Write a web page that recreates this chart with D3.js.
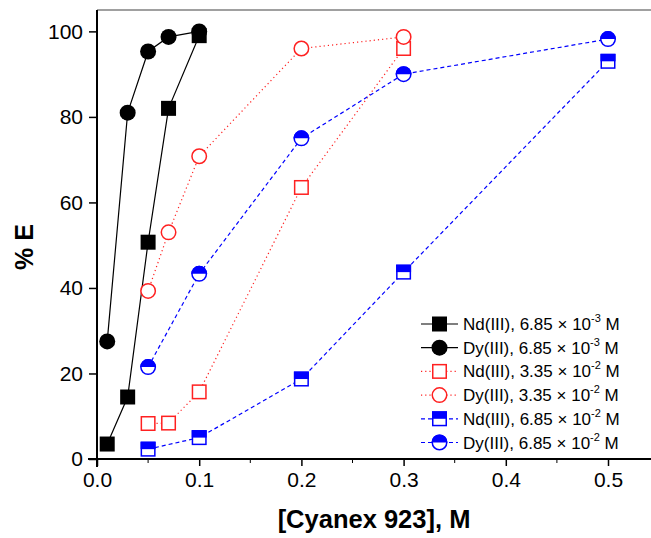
<!DOCTYPE html>
<html>
<head>
<meta charset="utf-8">
<script src="https://cdn.jsdelivr.net/npm/d3@7"></script>
<style>
  body { margin: 0; background: #fff; }
  text { font-family: Arial, "Liberation Sans", sans-serif; }
</style>
</head>
<body>
<div class="chart"></div>
<script>
// data
const ndLowX = [0.01, 0.03, 0.05, 0.07, 0.1];
const ndLowY = [3.5, 14.5, 50.7, 82, 99];
const dyLowX = [0.01, 0.03, 0.05, 0.07, 0.1];
const dyLowY = [27.5, 81, 95.3, 98.7, 100];
const ndMidX = [0.05, 0.07, 0.1, 0.2, 0.3];
const ndMidY = [8.3, 8.4, 15.7, 63.5, 96];
const dyMidX = [0.05, 0.07, 0.1, 0.2, 0.3];
const dyMidY = [39.3, 53, 70.8, 96, 98.7];
const ndHighX = [0.05, 0.1, 0.2, 0.3, 0.5];
const ndHighY = [2.3, 5, 18.7, 43.7, 93];
const dyHighX = [0.05, 0.1, 0.2, 0.3, 0.5];
const dyHighY = [21.5, 43.3, 75, 90, 98.2];

const xTicks = [0, 0.1, 0.2, 0.3, 0.4, 0.5];
const yTicks = [0, 20, 40, 60, 80, 100];

const series = [
  { name: "Nd(III), 6.85 × 10", exp: "-3", xs: ndLowX, ys: ndLowY, color: "#000", dash: null, shape: "square", fill: "full" },
  { name: "Dy(III), 6.85 × 10", exp: "-3", xs: dyLowX, ys: dyLowY, color: "#000", dash: null, shape: "circle", fill: "full" },
  { name: "Nd(III), 3.35 × 10", exp: "-2", xs: ndMidX, ys: ndMidY, color: "#ff2020", dash: "1.2,3", shape: "square", fill: "none" },
  { name: "Dy(III), 3.35 × 10", exp: "-2", xs: dyMidX, ys: dyMidY, color: "#ff2020", dash: "1.2,3", shape: "circle", fill: "none" },
  { name: "Nd(III), 6.85 × 10", exp: "-2", xs: ndHighX, ys: ndHighY, color: "#0000ff", dash: "4,3", shape: "square", fill: "half" },
  { name: "Dy(III), 6.85 × 10", exp: "-2", xs: dyHighX, ys: dyHighY, color: "#0000ff", dash: "4,3", shape: "circle", fill: "half" }
];

const W = 651, H = 538;
const margin = { top: 10, left: 97, bottom: 79 };

const x = d3.scaleLinear().domain([0, 0.55]).range([margin.left, margin.left + 0.55 * 1022]);
const y = d3.scaleLinear().domain([0, 105]).range([H - margin.bottom, margin.top]);

const svg = d3.select(".chart").append("svg")
  .attr("width", W)
  .attr("height", H);

// frame top
svg.append("line")
  .attr("x1", x(0)).attr("x2", W)
  .attr("y1", y(105)).attr("y2", y(105))
  .attr("stroke", "#808080").attr("stroke-width", 1.5);

// x axis
const xAxis = d3.axisBottom(x).tickValues(xTicks).tickSize(7).tickPadding(6)
  .tickFormat(d3.format(".1f"));
const gx = svg.append("g").attr("transform", "translate(0," + y(0) + ")").call(xAxis);
gx.select(".domain").remove();
gx.append("line").attr("x1", x(0) - 9).attr("x2", W).attr("stroke", "#000").attr("stroke-width", 2);
gx.selectAll(".tick line").attr("stroke-width", 1.5);
gx.selectAll(".tick text").attr("font-size", 21).attr("fill", "#000")
  .style("font-family", "Arial, 'Liberation Sans', sans-serif");
gx.selectAll(".minor").data([0.05, 0.15, 0.25, 0.35, 0.45]).enter()
  .append("line").attr("class", "minor")
  .attr("x1", d => x(d)).attr("x2", d => x(d))
  .attr("y1", 0).attr("y2", 4).attr("stroke", "#000").attr("stroke-width", 1);

// y axis
const yAxis = d3.axisLeft(y).tickValues(yTicks).tickSize(8).tickPadding(6);
const gy = svg.append("g").attr("transform", "translate(" + x(0) + ",0)").call(yAxis);
gy.select(".domain").remove();
gy.append("line").attr("y1", y(0) + 8).attr("y2", y(105)).attr("stroke", "#000").attr("stroke-width", 2);
gy.selectAll(".tick line").attr("stroke-width", 1.5);
gy.selectAll(".tick text").attr("font-size", 21).attr("fill", "#000")
  .style("font-family", "Arial, 'Liberation Sans', sans-serif");

// axis titles
svg.append("text")
  .attr("x", 374).attr("y", 528)
  .attr("text-anchor", "middle")
  .attr("font-size", 25.5).attr("font-weight", "bold")
  .text("[Cyanex 923], M");

svg.append("text")
  .attr("transform", "translate(33,247) rotate(-90)")
  .attr("text-anchor", "middle")
  .attr("font-size", 25).attr("font-weight", "bold")
  .text("% E");

// marker drawing
function marker(g, s, cx, cy) {
  if (s.shape === "square") {
    const a = 7.5;
    if (s.fill === "full") {
      g.append("rect").attr("x", cx - a).attr("y", cy - a).attr("width", 2 * a).attr("height", 2 * a)
        .attr("fill", s.color);
    } else {
      g.append("rect").attr("x", cx - a + 0.75).attr("y", cy - a + 0.75)
        .attr("width", 2 * a - 1.5).attr("height", 2 * a - 1.5)
        .attr("fill", "#fff").attr("stroke", s.color).attr("stroke-width", 1.5);
      if (s.fill === "half") {
        g.append("rect").attr("x", cx - a).attr("y", cy - a).attr("width", 2 * a).attr("height", a)
          .attr("fill", s.color);
      }
    }
  } else {
    const r = 8;
    if (s.fill === "full") {
      g.append("circle").attr("cx", cx).attr("cy", cy).attr("r", r).attr("fill", s.color);
    } else {
      g.append("circle").attr("cx", cx).attr("cy", cy).attr("r", r - 0.75)
        .attr("fill", "#fff").attr("stroke", s.color).attr("stroke-width", 1.5);
      if (s.fill === "half") {
        g.append("path")
          .attr("d", "M" + (cx - r) + "," + cy + " A" + r + "," + r + " 0 0 1 " + (cx + r) + "," + cy + " Z")
          .attr("fill", s.color);
      }
    }
  }
}

const line = d3.line().x(d => x(d[0])).y(d => y(d[1]));

// lines then markers, series by series
series.forEach(s => {
  const pts = s.xs.map((v, i) => [v, s.ys[i]]);
  const g = svg.append("g");
  g.append("path").attr("d", line(pts))
    .attr("fill", "none").attr("stroke", s.color).attr("stroke-width", 1.2)
    .attr("stroke-dasharray", s.dash);
  pts.forEach(p => marker(g, s, x(p[0]), y(p[1])));
});

// legend
const legend = svg.append("g").attr("transform", "translate(421,324)");
series.forEach((s, i) => {
  const row = legend.append("g").attr("transform", "translate(0," + (i * 23.7) + ")");
  row.append("line").attr("x1", 0).attr("x2", 37).attr("y1", 0).attr("y2", 0)
    .attr("stroke", s.color).attr("stroke-width", 1.2).attr("stroke-dasharray", s.dash);
  marker(row, s, 18.5, 0);
  const t = row.append("text").attr("x", 42).attr("y", 6).attr("font-size", 17);
  t.append("tspan").text(s.name);
  t.append("tspan").attr("font-size", 11).attr("dy", -8).text(s.exp);
  t.append("tspan").attr("dy", 8).text(" M");
});
</script>
</body>
</html>
